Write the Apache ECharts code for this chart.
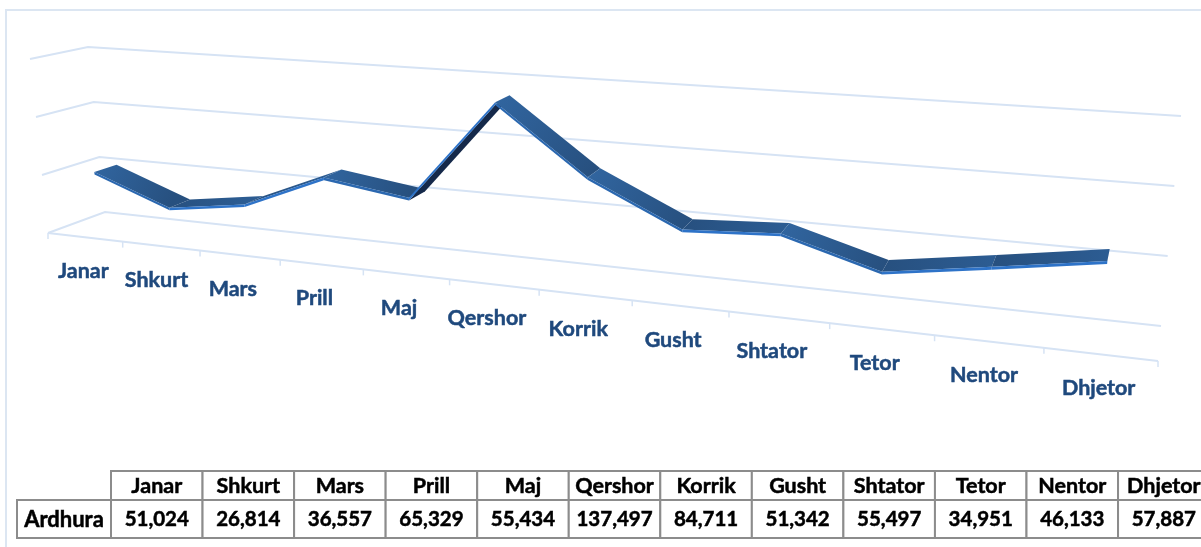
<!DOCTYPE html>
<html>
<head>
<meta charset="utf-8">
<style>
  html, body { margin: 0; padding: 0; background: #fff; overflow: hidden; }
  #main { width: 1201px; height: 547px; }
</style>
<script src="https://cdn.jsdelivr.net/npm/echarts@6/dist/echarts.min.js"></script>
</head>
<body>
<div id="main"></div>
<script>
// data
var months = ['Janar', 'Shkurt', 'Mars', 'Prill', 'Maj', 'Qershor', 'Korrik', 'Gusht', 'Shtator', 'Tetor', 'Nentor', 'Dhjetor'];
var ardhura = [51024, 26814, 36557, 65329, 55434, 137497, 84711, 51342, 55497, 34951, 46133, 57887];
var seriesName = 'Ardhura';
var yTicks = [0, 50000, 100000, 150000];

var chart = echarts.init(document.getElementById('main'));

// the 3d box, screen corners of the floor (0) and the top (1)
var FL = [[48, 233], [30, 59]];
var BL = [[105, 212], [88, 47]];
var BR = [[1161, 326], [1181, 116]];
var FR = [[1158, 361], [1178, 140]];
var PERSP = 1.26;

function mix(a, b, t) {
    return [a[0] + (b[0] - a[0]) * t, a[1] + (b[1] - a[1]) * t];
}

// u along the categories, v up the value axis, d into the depth (0 front, 1 back)
function project(u, v, d) {
    var left = mix(mix(FL[0], FL[1], v), mix(BL[0], BL[1], v), d);
    var right = mix(mix(FR[0], FR[1], v), mix(BR[0], BR[1], v), d);
    return mix(left, right, u / (u + (1 - u) * PERSP));
}

// band centres sit a bit left of the tick middles in the middle of the chart
function bandPoint(u, v, d) {
    var p = project(u, v, d);
    return [p[0] - 7 * Math.min(1, 6 * u * (1 - u)), p[1]];
}

// hidden cartesian grid gives the scales, this turns a value into u,v
function toUnit(params, api, cat, val) {
    var p = api.coord([cat, val]);
    var r = params.coordSys;
    return [(p[0] - r.x) / r.width, 1 - (p[1] - r.y) / r.height];
}

function poly(points, fill) {
    return { type: 'polygon', shape: { points: points }, style: { fill: fill } };
}

function line(points, width) {
    return { type: 'polyline', shape: { points: points }, style: { fill: null, stroke: '#d6e3f4', lineWidth: width } };
}

// ribbon, one segment per data item
var D0 = 0.3, D1 = 0.7, THICK = 0.014;

function renderRibbon(params, api) {
    var i = params.dataIndex;
    if (i >= ardhura.length - 1) return { type: 'group', children: [] };
    var a = toUnit(params, api, api.value(0), api.value(1));
    var b = toUnit(params, api, i + 1, ardhura[i + 1]);
    var af = bandPoint(a[0], a[1], D0), ab = bandPoint(a[0], a[1], D1);
    var bf = bandPoint(b[0], b[1], D0), bb = bandPoint(b[0], b[1], D1);
    var afl = bandPoint(a[0], a[1] - THICK, D0), bfl = bandPoint(b[0], b[1] - THICK, D0);
    var abl = bandPoint(a[0], a[1] - THICK, D1), bbl = bandPoint(b[0], b[1] - THICK, D1);
    // which way the face turns tells if we look on top or under it
    var sx = bf[0] - af[0], sy = bf[1] - af[1], dx = ab[0] - af[0], dy = ab[1] - af[1];
    var top = sx * dy - sy * dx < 0;
    var falling = ardhura[i + 1] < ardhura[i];
    var children = [];
    if (top) {
        var c0 = falling ? '#31659f' : '#27507f', c1 = falling ? '#27507f' : '#2c5c92';
        children.push(poly([af, bf, bb, ab], new echarts.graphic.LinearGradient(af[0], af[1], bf[0], bf[1], [
            { offset: 0, color: c0 }, { offset: 1, color: c1 }
        ], true)));
    } else {
        children.push(poly([afl, bfl, bbl, abl], '#15294a'));
    }
    children.push(poly([af, bf, bfl, afl], falling ? '#2b68b0' : '#2e73c8'));
    return { type: 'group', children: children };
}

// grid lines along the side and the back wall
function renderGrid(params, api) {
    var v = toUnit(params, api, 0, api.value(0))[1];
    return line([project(0, v, 0), project(0, v, 1), project(1, v, 1)], 2);
}

// front edge of the floor with its ticks
function renderBase(params, api) {
    var kids = [line([project(0, 0, 0), project(1, 0, 0)], 2)];
    for (var k = 0; k <= months.length; k++) {
        var p = project(k / months.length, 0, 0);
        kids.push(line([p, [p[0], p[1] + 6]], 1.5));
    }
    return { type: 'group', children: kids };
}

// month labels under the front edge
function renderLabels(params, api) {
    var u = toUnit(params, api, api.value(0), 0)[0];
    var p = bandPoint(u, 0, 0);
    return {
        type: 'text',
        x: p[0], y: p[1] + 34,
        style: {
            text: months[params.dataIndex], fill: '#1f497d', stroke: '#1f497d', lineWidth: 0.5,
            font: 'bold 21.5px Lato', align: 'center', verticalAlign: 'middle'
        }
    };
}

// data table
var COL0 = 17, COL1 = 111, COLW = 91.55, ROW0 = 471, ROW1 = 500, ROW2 = 538;
var tableItems = [];

function cell(x, y, w, h, txt, size) {
    tableItems.push({
        type: 'rect', shape: { x: x, y: y, width: w, height: h },
        style: { fill: '#fff', stroke: '#8c8c8c', lineWidth: 2 }
    });
    tableItems.push({
        type: 'text', x: x + w / 2, y: y + h / 2 + 0.5,
        style: {
            text: txt, fill: '#000', stroke: '#000', lineWidth: 0.5,
            font: 'bold ' + size + 'px Lato', align: 'center', verticalAlign: 'middle'
        }
    });
}

cell(COL0, ROW1, COL1 - COL0, ROW2 - ROW1, seriesName, 22);
months.forEach(function (m, i) {
    cell(COL1 + i * COLW, ROW0, COLW, ROW1 - ROW0, m, 21.5);
    cell(COL1 + i * COLW, ROW1, COLW, ROW2 - ROW1, ardhura[i].toLocaleString('en-US'), 20.5);
});

// outer frame
tableItems.unshift({
    type: 'rect', shape: { x: 6, y: 10, width: 1300, height: 700 },
    style: { fill: '#fff', stroke: '#dce6f2', lineWidth: 2 }
});

chart.setOption({
    animation: false,
    grid: { left: 0, top: 0, width: 1000, height: 300, show: false },
    xAxis: { type: 'category', data: months, show: false },
    yAxis: { type: 'value', min: 0, max: 150000, interval: 50000, show: false },
    graphic: { elements: tableItems },
    series: [
        { type: 'custom', name: 'grid', clip: false, z: 2, silent: true, renderItem: renderGrid, encode: { y: 0 }, data: yTicks.map(function (t) { return [t]; }) },
        { type: 'custom', name: 'base', clip: false, z: 2, silent: true, renderItem: renderBase, data: [0] },
        { type: 'custom', name: 'labels', clip: false, z: 3, silent: true, renderItem: renderLabels, data: months.map(function (m, i) { return [i]; }) },
        { type: 'custom', name: seriesName, clip: false, z: 4, silent: true, renderItem: renderRibbon, data: ardhura.map(function (v, i) { return [i, v]; }) }
    ]
});
</script>
</body>
</html>
